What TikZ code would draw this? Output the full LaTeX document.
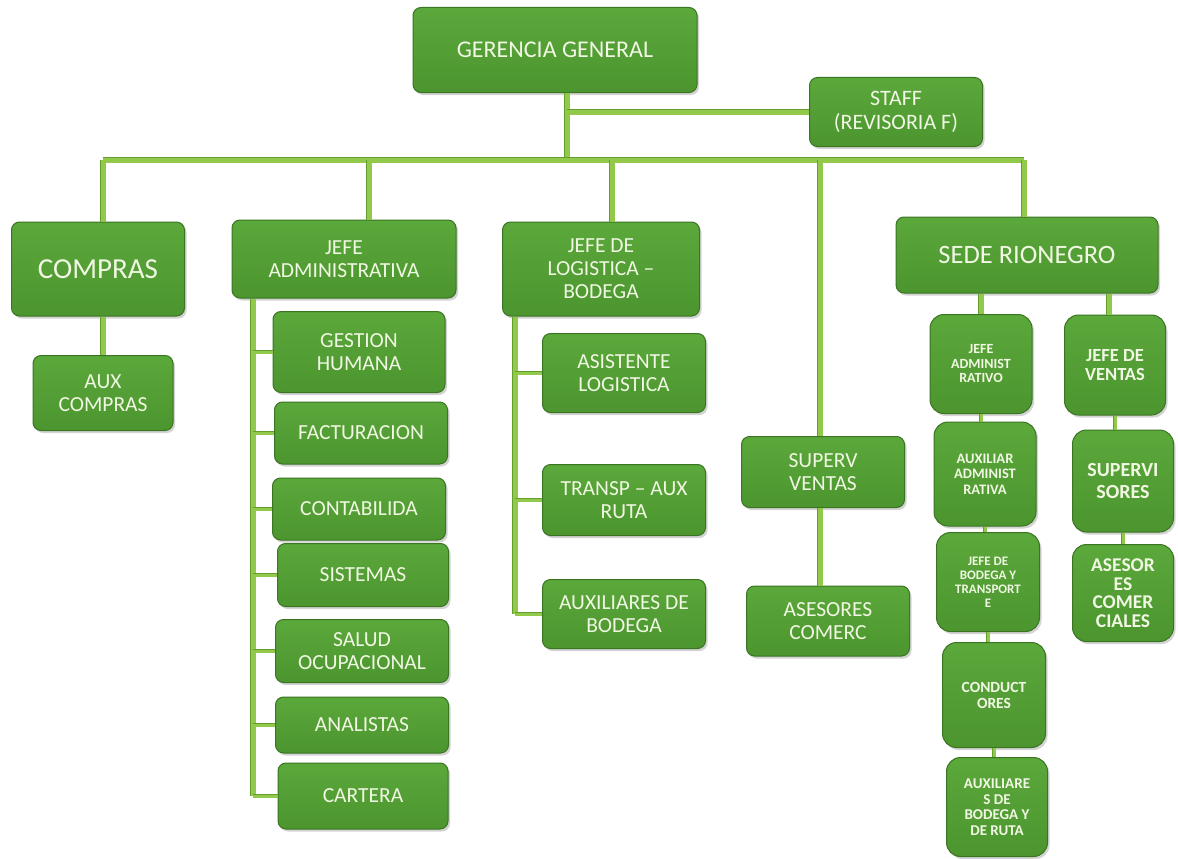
\documentclass[tikz,border=0pt]{standalone}
\usepackage{fontspec}
\setmainfont{Carlito}
\newfontfamily\smallbf{Carlito}
\usetikzlibrary{shadows}
\definecolor{orgtop}{HTML}{5BA83B}
\definecolor{orgfill}{HTML}{4C952F}
\definecolor{orgedge}{HTML}{3A7522}
\definecolor{orgtext}{HTML}{F0F7E2}
\definecolor{linefill}{HTML}{93C94A}
\definecolor{lineedge}{HTML}{62A02E}

\begin{document}
\begin{tikzpicture}[x=1pt, y=-1pt,
        box/.style={draw=orgedge, line width=1pt, rounded corners=8pt, top color=orgtop, bottom color=orgfill,
                    text=orgtext, align=center, inner sep=2pt,
                    drop shadow={opacity=0.35, shadow xshift=2pt, shadow yshift=-2.5pt},
                    font=\fontsize{21.5}{23}\selectfont},
        sbox/.style={box, rounded corners=14pt, font=\smallbf\bfseries\fontsize{14.5}{15.5}\selectfont},
        conn/.style={draw=lineedge, line width=0.8pt, double=linefill, double distance=5pt},
        stub/.style={conn, double distance=3pt}
      ]
        \useasboundingbox (0,0) rectangle (1178,859);

        \node[box, minimum width=284pt, minimum height=85pt, font=\fontsize{24}{26}\selectfont] (ger) at (555,50) {GERENCIA GENERAL};
        \node[box, minimum width=173pt, minimum height=69pt, font=\fontsize{22}{24}\selectfont] (staff) at (896,112) {STAFF\\(REVISORIA F)};

        \node[box, minimum width=173pt, minimum height=94pt, font=\fontsize{29}{32}\selectfont] (compras) at (98,269) {COMPRAS};
        \node[box, minimum width=140pt, minimum height=75pt] (auxc) at (103,393) {AUX\\COMPRAS};

        \node[box, minimum width=224pt, minimum height=78pt] (jadm) at (344,259) {JEFE\\ADMINISTRATIVA};
        \node[box, minimum width=172pt, minimum height=81pt] (gh) at (359,352) {GESTION\\HUMANA};
        \node[box, minimum width=173pt, minimum height=62pt] (fact) at (361,433) {FACTURACION};
        \node[box, minimum width=173pt, minimum height=62pt] (cont) at (359,509) {CONTABILIDA};
        \node[box, minimum width=171pt, minimum height=63pt] (sist) at (363,575) {SISTEMAS};
        \node[box, minimum width=173pt, minimum height=63pt] (salud) at (362,651) {SALUD\\OCUPACIONAL};
        \node[box, minimum width=173pt, minimum height=56pt] (anal) at (362,725) {ANALISTAS};
        \node[box, minimum width=170pt, minimum height=66pt] (cart) at (363,796) {CARTERA};

        \node[box, minimum width=197pt, minimum height=94pt] (jlog) at (601,269) {JEFE DE\\LOGISTICA --\\BODEGA};
        \node[box, minimum width=163pt, minimum height=79pt] (asis) at (624,373) {ASISTENTE\\LOGISTICA};
        \node[box, minimum width=163pt, minimum height=71pt] (transp) at (624,500) {TRANSP -- AUX\\RUTA};
        \node[box, minimum width=163pt, minimum height=69pt] (auxb) at (624,614) {AUXILIARES DE\\BODEGA};

        \node[box, minimum width=163pt, minimum height=71pt] (superv) at (823,472) {SUPERV\\VENTAS};
        \node[box, minimum width=163pt, minimum height=70pt] (asesc) at (828,621) {ASESORES\\COMERC};

        \node[box, minimum width=262pt, minimum height=76pt, font=\fontsize{26.5}{28}\selectfont] (sede) at (1027,255) {SEDE RIONEGRO};
        \node[sbox, minimum width=102pt, minimum height=99pt, font=\smallbf\bfseries\fontsize{14}{14.5}\selectfont] (sjadm) at (981,364) {JEFE\\ADMINIST\\RATIVO};
        \node[sbox, minimum width=102pt, minimum height=104pt] (sauxa) at (985,474) {AUXILIAR\\ADMINIST\\RATIVA};
        \node[sbox, minimum width=103pt, minimum height=99pt, font=\smallbf\bfseries\fontsize{13}{14}\selectfont] (sjbod) at (988,582) {JEFE DE\\BODEGA Y\\TRANSPORT\\E};
        \node[sbox, minimum width=103pt, minimum height=105pt, font=\smallbf\bfseries\fontsize{15.5}{16}\selectfont] (scond) at (994,695) {CONDUCT\\ORES};
        \node[sbox, minimum width=101pt, minimum height=99pt, font=\smallbf\bfseries\fontsize{15}{15.5}\selectfont] (sauxb) at (997,807) {AUXILIARE\\S DE\\BODEGA Y\\DE RUTA};
        \node[sbox, minimum width=101pt, minimum height=100pt, font=\smallbf\bfseries\fontsize{18.5}{19}\selectfont] (sjven) at (1115,365) {JEFE DE\\VENTAS};
        \node[sbox, minimum width=101pt, minimum height=102pt, font=\smallbf\bfseries\fontsize{20}{22}\selectfont] (ssup) at (1123,481) {SUPERVI\\SORES};
        \node[sbox, minimum width=101pt, minimum height=97pt, font=\smallbf\bfseries\fontsize{19.5}{18.5}\selectfont] (sases) at (1123,593) {ASESOR\\ES\\COMER\\CIALES};

        % top level
        \coordinate (gdrop) at (567,160);
        \coordinate (barL) at (103,160);
        \coordinate (barR) at (1024,160);
        \draw[conn] (ger.south -| gdrop) -- (gdrop);
        \draw[conn] (gdrop |- staff.west) -- (staff.west);
        \draw[conn] (barL) -- (barR);
        \foreach \n/\dx in {compras/5, jadm/25, jlog/11, sede/-3}
          \draw[conn] ([xshift=\dx pt]\n.north |- barL) -- ([xshift=\dx pt]\n.north);
        \draw[conn] ([xshift=-3pt]superv.north |- barL) -- ([xshift=-3pt]superv.north);

        \draw[conn] (auxc.north |- compras.south) -- (auxc.north);
        \draw[conn] ([xshift=-3pt]superv.south) -- ([xshift=-3pt]superv.south |- asesc.north);

        % administrativa
        \coordinate (admbot) at (253,796);
        \draw[conn] (admbot |- jadm.south) -- (admbot);
        \foreach \n in {gh,fact,cont,sist,salud,anal,cart}
          \draw[stub] (admbot |- \n.west) -- (\n.west);

        % logistica
        \coordinate (logbot) at (515,614);
        \draw[conn] (logbot |- jlog.south) -- (logbot);
        \foreach \n in {asis,transp,auxb}
          \draw[stub] (logbot |- \n.west) -- (\n.west);

        % sede rionegro
        \draw[conn] (sjadm.north |- sede.south) -- (sjadm.north);
        \draw[conn] ([xshift=-6pt]sjven.north |- sede.south) -- ([xshift=-6pt]sjven.north);
        \draw[stub] (sjadm.south) -- (sjadm.south |- sauxa.north);
        \draw[stub] (sauxa.south) -- (sauxa.south |- sjbod.north);
        \draw[stub] (sjbod.south) -- (sjbod.south |- scond.north);
        \draw[stub] (scond.south) -- (scond.south |- sauxb.north);
        \draw[stub] (sjven.south) -- (sjven.south |- ssup.north);
        \draw[stub] (ssup.south) -- (ssup.south |- sases.north);
      \end{tikzpicture}
\end{document}
